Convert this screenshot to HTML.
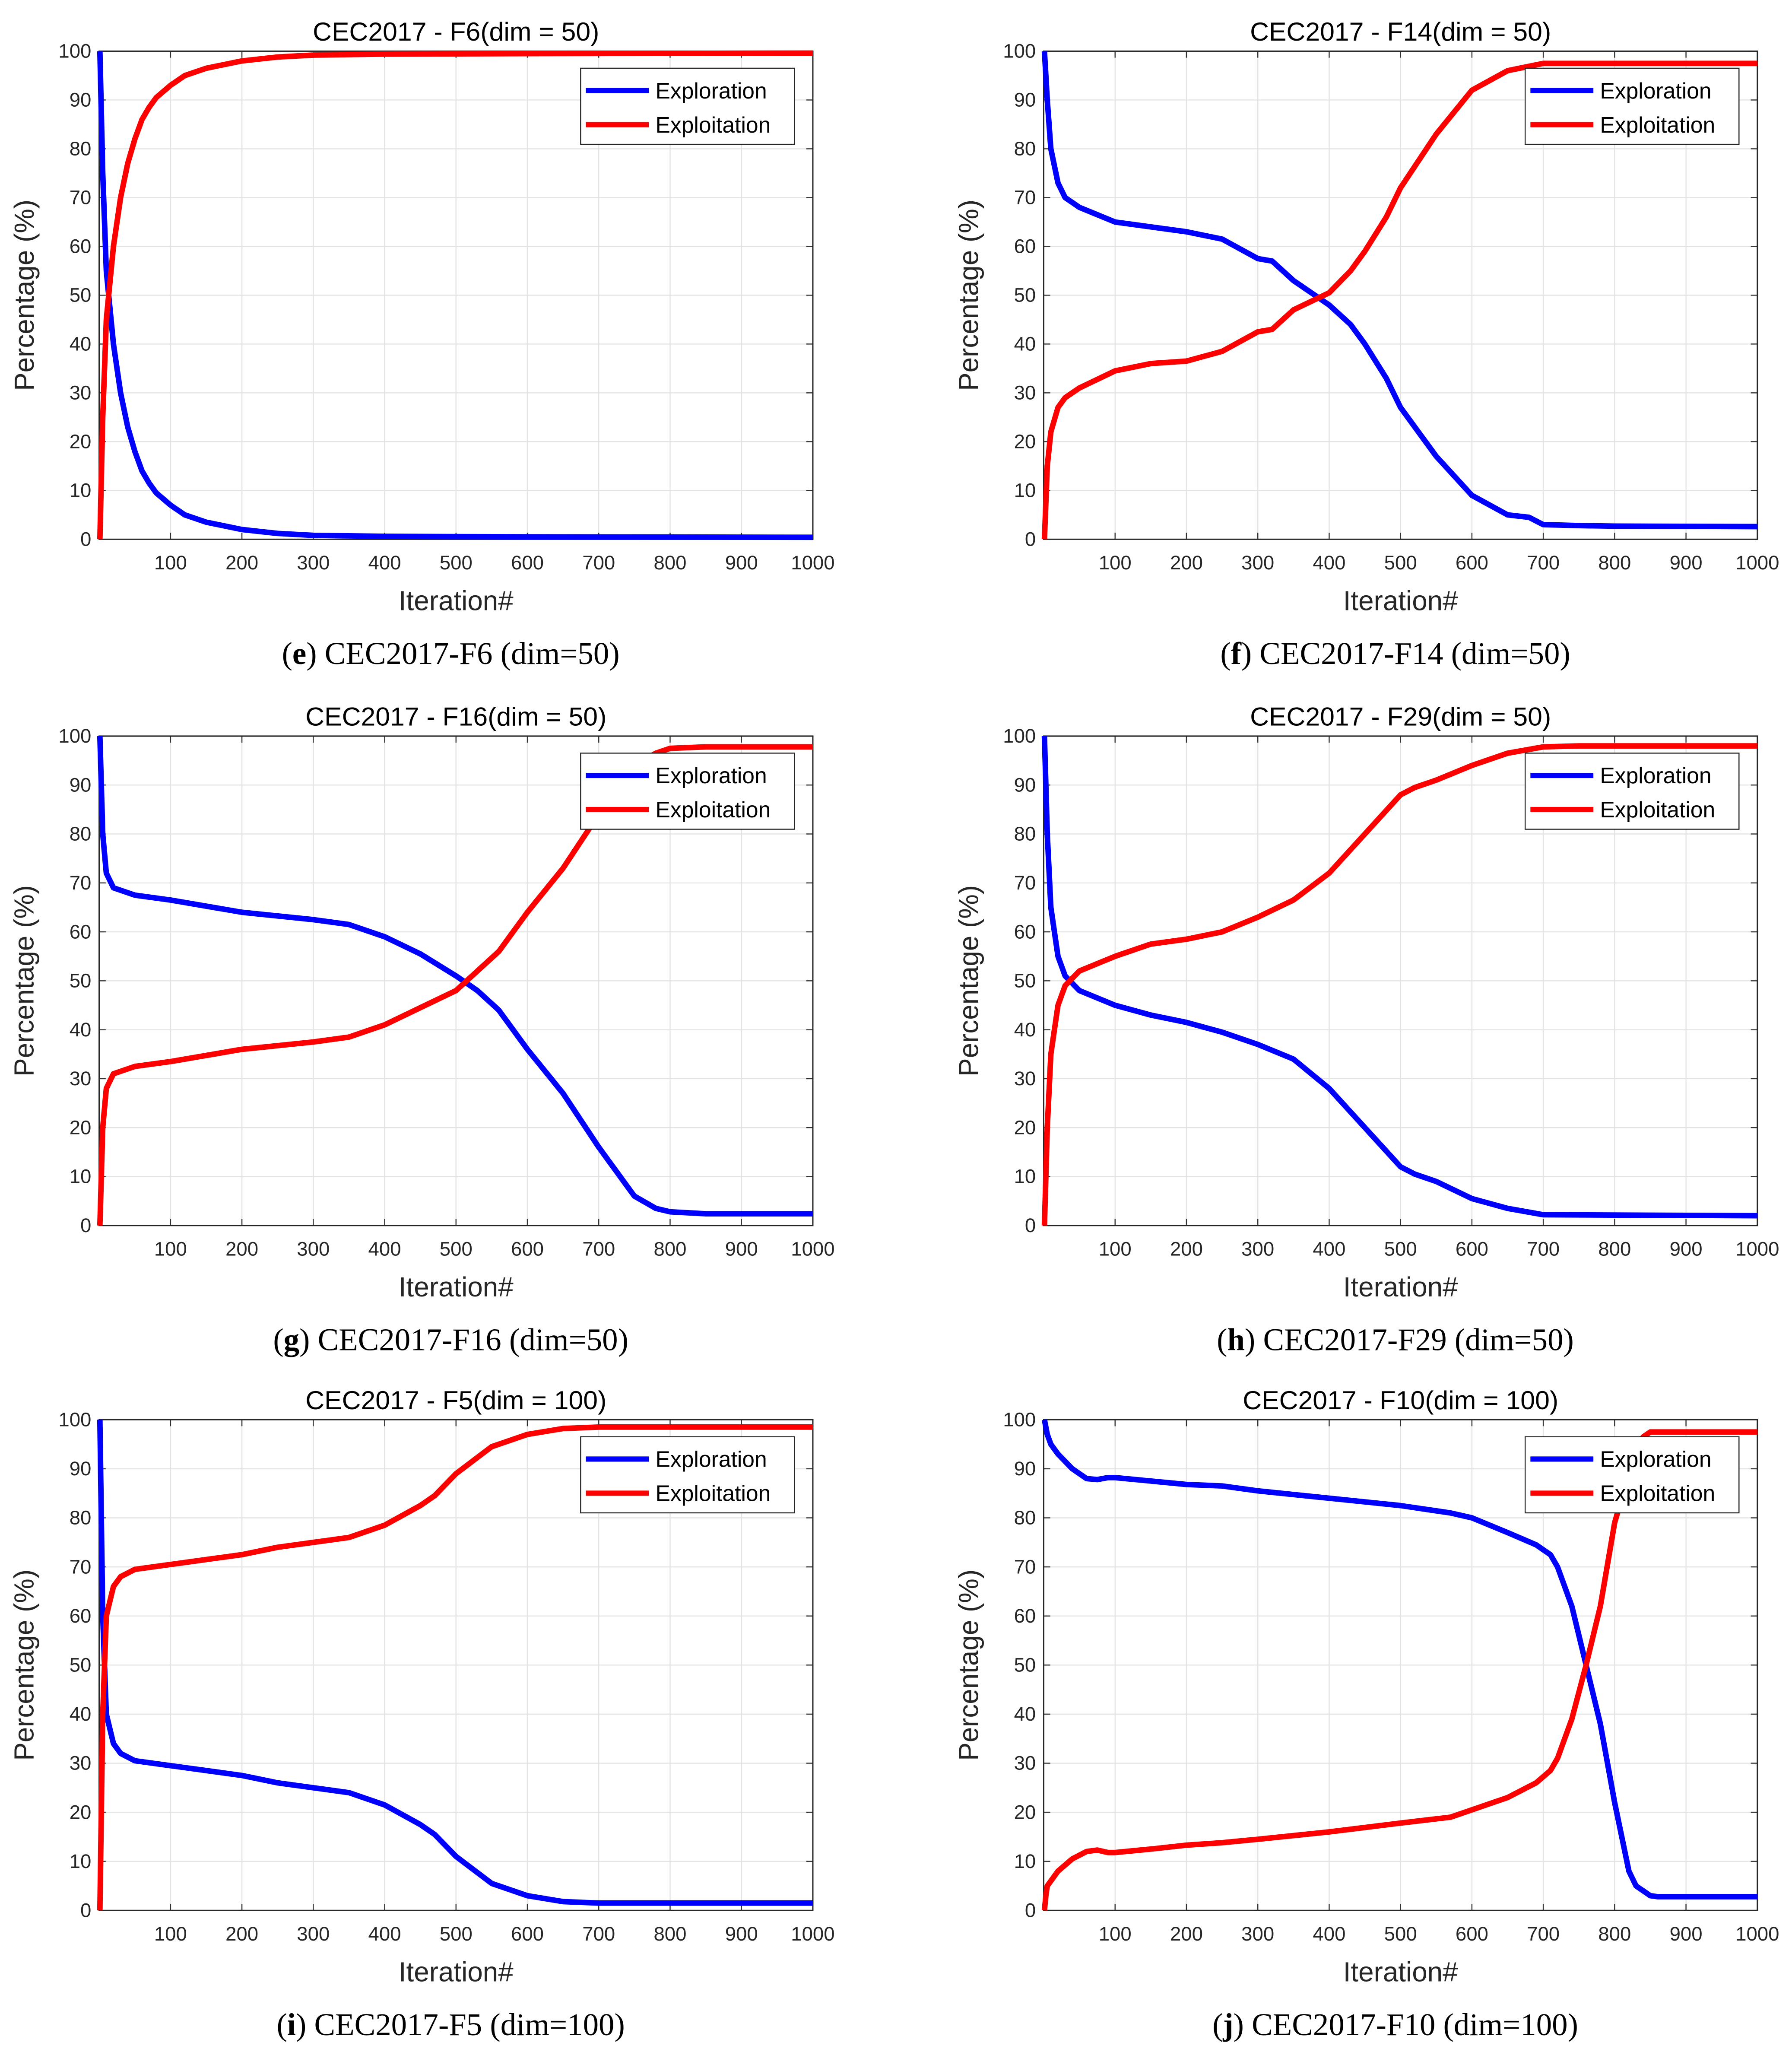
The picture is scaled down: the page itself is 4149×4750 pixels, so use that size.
<!DOCTYPE html>
<html><head><meta charset="utf-8"><style>
html,body{margin:0;padding:0;background:#fff}
svg{display:block}
</style></head><body>
<svg id="fig" width="4149" height="4750" viewBox="0 0 1366 1563.9" preserveAspectRatio="none" xmlns="http://www.w3.org/2000/svg"></svg>
<script>
// ---- data (iteration, percentage) ----
const xE_e=[1,5,10,20,30,40,50,60,70,80,100,120,150,200,250,300,400,600,1000];
const yE_e=[100,75,55,40,30,23,18,14,11.5,9.5,7,5,3.5,2,1.2,0.8,0.6,0.5,0.4];
const xX_e=[1,5,10,20,30,40,50,60,70,80,100,120,150,200,250,300,400,600,1000];
const yX_e=[0,25,45,60,70,77,82,86,88.5,90.5,93,95,96.5,98,98.8,99.2,99.4,99.5,99.6];

const xE_f=[1,5,10,20,30,50,100,150,200,250,300,320,350,400,430,450,480,500,550,600,650,680,700,750,800,1000];
const yE_f=[100,90,80,73,70,68,65,64,63,61.5,57.5,57,53,48,44,40,33,27,17,9,5,4.5,3,2.8,2.7,2.6];
const xX_f=[1,5,10,20,30,50,100,150,200,250,300,320,350,400,430,450,480,500,550,600,650,700,750,1000];
const yX_f=[0,15,22,27,29,31,34.5,36,36.5,38.5,42.5,43,47,50.5,55,59,66,72,83,92,96,97.5,97.5,97.5];

const xE_g=[1,5,10,20,50,100,200,300,350,400,450,500,530,560,600,650,700,750,780,800,850,1000];
const yE_g=[100,80,72,69,67.5,66.5,64,62.5,61.5,59,55.5,51,48,44,36,27,16,6,3.5,2.8,2.4,2.4];
const xX_g=[1,5,10,20,50,100,200,300,350,400,450,500,530,560,600,650,700,750,780,800,850,1000];
const yX_g=[0,20,28,31,32.5,33.5,36,37.5,38.5,41,44.5,48,52,56,64,73,84,94,96.5,97.5,97.8,97.8];

const xE_h=[1,5,10,20,30,50,100,150,200,250,300,350,400,450,500,520,550,600,650,700,1000];
const yE_h=[100,80,65,55,51,48,45,43,41.5,39.5,37,34,28,20,12,10.5,9,5.5,3.5,2.2,2];
const xX_h=[1,5,10,20,30,50,100,150,200,250,300,350,400,450,500,520,550,600,650,700,750,1000];
const yX_h=[0,20,35,45,49,52,55,57.5,58.5,60,63,66.5,72,80,88,89.5,91,94,96.5,97.8,98,98];

const xE_i=[1,5,10,20,30,50,100,200,250,300,350,400,450,470,500,550,600,650,700,1000];
const yE_i=[100,60,40,34,32,30.5,29.5,27.5,26,25,24,21.5,17.5,15.5,11,5.5,3,1.8,1.5,1.5];
const xX_i=[1,5,10,20,30,50,100,200,250,300,350,400,450,470,500,550,600,650,700,1000];
const yX_i=[0,40,60,66,68,69.5,70.5,72.5,74,75,76,78.5,82.5,84.5,89,94.5,97,98.2,98.5,98.5];

const xE_j=[1,5,10,20,40,60,75,90,100,150,200,250,300,400,500,570,600,650,690,710,720,740,760,780,800,820,830,840,850,860,1000];
const yE_j=[100,97,95,93,90,88,87.8,88.2,88.2,87.5,86.8,86.5,85.5,84,82.5,81,80,77,74.5,72.5,70,62,50,38,22,8,5,4,3,2.8,2.8];
const xX_j=[1,3,5,10,20,40,60,75,90,100,150,200,250,300,400,500,570,600,650,690,710,720,740,760,780,800,810,820,830,840,850,1000];
const yX_j=[0,3,5,6,8,10.5,12,12.3,11.8,11.8,12.5,13.3,13.8,14.5,16,17.8,19,20.5,23,26,28.5,31,39,50,62,79,84,90,94,96.5,97.5,97.5];

const xTicks=[100,200,300,400,500,600,700,800,900,1000];
const yTicks=[0,10,20,30,40,50,60,70,80,90,100];
const titles=["CEC2017 - F6(dim = 50)","CEC2017 - F14(dim = 50)","CEC2017 - F16(dim = 50)","CEC2017 - F29(dim = 50)","CEC2017 - F5(dim = 100)","CEC2017 - F10(dim = 100)"];
const capLetters=["e","f","g","h","i","j"];
const capTexts=[" CEC2017-F6 (dim=50)"," CEC2017-F14 (dim=50)"," CEC2017-F16 (dim=50)"," CEC2017-F29 (dim=50)"," CEC2017-F5 (dim=100)"," CEC2017-F10 (dim=100)"];

const NS="http://www.w3.org/2000/svg";
const svg=document.getElementById('fig');
function mk(tag,attrs,parent){const e=document.createElementNS(NS,tag);for(const k in attrs)e.setAttribute(k,attrs[k]);(parent||svg).appendChild(e);return e;}

const panels=[
 {xe:xE_e,ye:yE_e,xx:xX_e,yx:yX_e,L:75.6,T:39,B:411},
 {xe:xE_f,ye:yE_f,xx:xX_f,yx:yX_f,L:795.6,T:39,B:411},
 {xe:xE_g,ye:yE_g,xx:xX_g,yx:yX_g,L:75.6,T:561,B:934},
 {xe:xE_h,ye:yE_h,xx:xX_h,yx:yX_h,L:795.6,T:561,B:934},
 {xe:xE_i,ye:yE_i,xx:xX_i,yx:yX_i,L:75.6,T:1082,B:1456},
 {xe:xE_j,ye:yE_j,xx:xX_j,yx:yX_j,L:795.6,T:1082,B:1456},
];
panels.forEach((p,i)=>{
 const W=544,R=p.L+W;
 const sx=v=>p.L+v/1000*W, sy=v=>p.B-(v/100)*(p.B-p.T);
 const g=mk('g',{});
 
 
 mk('rect',{x:p.L,y:p.T,width:W,height:p.B-p.T,fill:'#fff'},g);
 xTicks.forEach(t=>{
  const l=mk('line',{x1:sx(t),x2:sx(t),y1:p.T,y2:p.B,stroke:'#e3e3e3','stroke-width':0.8},g);
  
  
  mk('line',{x1:sx(t),x2:sx(t),y1:p.B,y2:p.B-5,stroke:'#333','stroke-width':0.8},g);
  mk('line',{x1:sx(t),x2:sx(t),y1:p.T,y2:p.T+5,stroke:'#333','stroke-width':0.8},g);
  const tx=mk('text',{x:sx(t),y:p.B+23,'text-anchor':'middle','font-size':15,fill:'#262626','font-family':'Liberation Sans, sans-serif'},g);
  tx.textContent=t;
  
  
 });
 yTicks.forEach(t=>{
  const l=mk('line',{x1:p.L,x2:R,y1:sy(t),y2:sy(t),stroke:'#e3e3e3','stroke-width':0.8},g);
  
  
  mk('line',{x1:p.L,x2:p.L+5,y1:sy(t),y2:sy(t),stroke:'#333','stroke-width':0.8},g);
  mk('line',{x1:R,x2:R-5,y1:sy(t),y2:sy(t),stroke:'#333','stroke-width':0.8},g);
  const tx=mk('text',{x:p.L-6,y:sy(t)+5,'text-anchor':'end','font-size':15,fill:'#262626','font-family':'Liberation Sans, sans-serif'},g);
  tx.textContent=t;
  
  
 });
 mk('rect',{x:p.L,y:p.T,width:W,height:p.B-p.T,fill:'none',stroke:'#262626','stroke-width':1},g);
 const d1=p.xe.map((x,k)=>(k?'L':'M')+sx(x).toFixed(2)+','+sy(p.ye[k]).toFixed(2)).join('');
 const e1=mk('path',{d:d1,fill:'none',stroke:'#0000ff','stroke-width':4.2,'stroke-linejoin':'round'},g);
 
 
 const d2=p.xx.map((x,k)=>(k?'L':'M')+sx(x).toFixed(2)+','+sy(p.yx[k]).toFixed(2)).join('');
 const e2=mk('path',{d:d2,fill:'none',stroke:'#ff0000','stroke-width':4.2,'stroke-linejoin':'round'},g);
 
 
 // legend
 const lx=R-177,ly=p.T+13;
 const lg=mk('g',{},g);
 
 
 mk('rect',{x:lx,y:ly,width:163,height:58,fill:'#fff',stroke:'#262626','stroke-width':0.8},lg);
 mk('line',{x1:lx+4,x2:lx+52,y1:ly+17,y2:ly+17,stroke:'#0000ff','stroke-width':4},lg);
 mk('line',{x1:lx+4,x2:lx+52,y1:ly+43,y2:ly+43,stroke:'#ff0000','stroke-width':4},lg);
 const t1=mk('text',{x:lx+57,y:ly+23,'font-size':17,fill:'#000','font-family':'Liberation Sans, sans-serif'},lg);t1.textContent='Exploration';
 
 
 const t2=mk('text',{x:lx+57,y:ly+49,'font-size':17,fill:'#000','font-family':'Liberation Sans, sans-serif'},lg);t2.textContent='Exploitation';
 
 
 // titles
 const ti=mk('text',{x:p.L+W/2,y:p.T-8,'text-anchor':'middle','font-size':20,fill:'#000','font-family':'Liberation Sans, sans-serif'},g);ti.textContent=titles[i];
 
 
 const xl=mk('text',{x:p.L+W/2,y:p.B+54,'text-anchor':'middle','font-size':21,fill:'#262626','font-family':'Liberation Sans, sans-serif'},g);xl.textContent='Iteration#';
 
 
 const cy=(p.T+p.B)/2, cxp=p.L-50;
 const yl=mk('text',{x:cxp,y:cy,'text-anchor':'middle','font-size':21,fill:'#262626','font-family':'Liberation Sans, sans-serif',transform:'rotate(-90 '+cxp+' '+cy+')'},g);yl.textContent='Percentage (%)';
 
 
 const cp=mk('text',{x:p.L+W/2-4,y:p.B+95,'text-anchor':'middle','font-size':24,fill:'#000','font-family':'Liberation Serif, serif'},g);
 
 
 const a=mk('tspan',{},cp);a.textContent='(';
 const b=mk('tspan',{'font-weight':'bold'},cp);b.textContent=capLetters[i];
 const c=mk('tspan',{},cp);c.textContent=')'+capTexts[i];
});
</script>
</body></html>
